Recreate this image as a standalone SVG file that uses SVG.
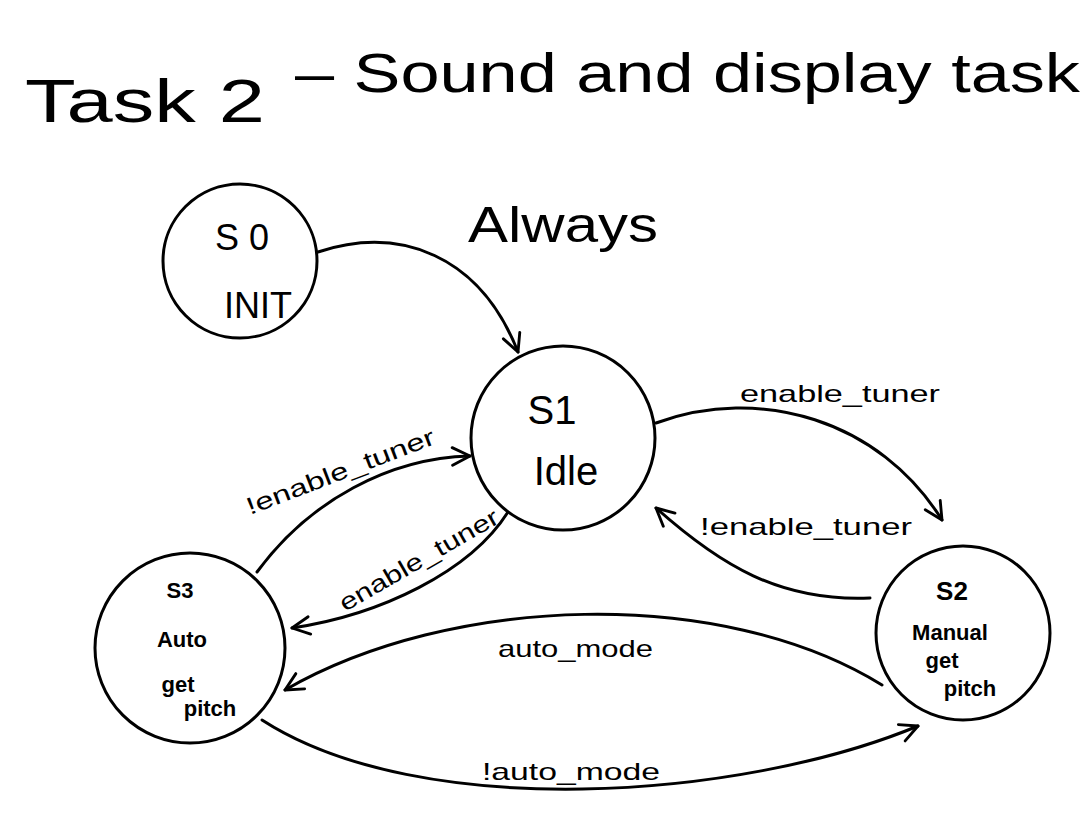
<svg xmlns="http://www.w3.org/2000/svg" width="1092" height="819" viewBox="0 0 1092 819">
<defs>
<marker id="arr" viewBox="0 0 20 20" refX="18" refY="10" markerWidth="22" markerHeight="22" markerUnits="userSpaceOnUse" orient="auto">
<path d="M2,2 L18,10 L2,18" fill="none" stroke="#000" stroke-width="2.6" stroke-linecap="round" stroke-linejoin="round"/>
</marker>
</defs>
<style>
.node{fill:#fff;stroke:#000;stroke-width:3}
.edge{fill:none;stroke:#000;stroke-width:3;stroke-linecap:round;marker-end:url(#arr)}
text{font-family:"Liberation Sans","DejaVu Sans",sans-serif;fill:#000}
.lbl{font-size:24px}
.big{font-size:50px}
.st{font-size:36px;text-anchor:middle}
.st1{font-size:40px;text-anchor:middle}
.sm{font-size:22px;text-anchor:middle;font-weight:bold}
.sm2{font-size:26px;text-anchor:middle;font-weight:bold}
.title{font-size:62px}
.title2{font-size:56px}
</style>
<rect width="1092" height="819" fill="#fff"/>
<g id="title">
<text class="title" x="25" y="122" textLength="240" lengthAdjust="spacingAndGlyphs">Task 2</text>
<text class="title2" x="295" y="92" textLength="785" lengthAdjust="spacingAndGlyphs">– Sound and display task</text>
</g>
<g id="edges">
<path class="edge" d="M318,252 C400,225 480,255 518,352"/>
<path class="edge" d="M656,423 C760,385 880,420 942,520"/>
<path class="edge" d="M870,598 C780,602 720,565 656,508"/>
<path class="edge" d="M257,572 C310,500 390,458 470,456"/>
<path class="edge" d="M508,512 C470,572 380,615 292,628"/>
<path class="edge" d="M882,685 C720,585 450,595 285,690"/>
<path class="edge" d="M262,720 C420,822 740,800 918,726"/>
<text class="big" x="468" y="242" textLength="190" lengthAdjust="spacingAndGlyphs">Always</text>
<text class="lbl" x="740" y="402" textLength="200" lengthAdjust="spacingAndGlyphs">enable_tuner</text>
<text class="lbl" x="700" y="535" textLength="212" lengthAdjust="spacingAndGlyphs">!enable_tuner</text>
<text class="lbl" transform="translate(250,515) rotate(-21)" textLength="200" lengthAdjust="spacingAndGlyphs">!enable_tuner</text>
<text class="lbl" transform="translate(345,612) rotate(-30)" textLength="180" lengthAdjust="spacingAndGlyphs">enable_tuner</text>
<text class="lbl" x="498" y="657" textLength="155" lengthAdjust="spacingAndGlyphs">auto_mode</text>
<text class="lbl" x="482" y="780" textLength="178" lengthAdjust="spacingAndGlyphs">!auto_mode</text>
</g>
<g id="S0">
<circle class="node" cx="240" cy="261" r="77"/>
<text class="st" x="242" y="250">S 0</text>
<text class="st" x="258" y="318">INIT</text>
</g>
<g id="S1">
<circle class="node" cx="563" cy="438" r="92"/>
<text class="st1" x="552" y="424">S1</text>
<text class="st1" x="566" y="485">Idle</text>
</g>
<g id="S3">
<circle class="node" cx="190" cy="648" r="95"/>
<text class="sm" x="180" y="598">S3</text>
<text class="sm" x="182" y="647">Auto</text>
<text class="sm" x="178" y="692">get</text>
<text class="sm" x="210" y="716">pitch</text>
</g>
<g id="S2">
<circle class="node" cx="963" cy="633" r="87"/>
<text class="sm2" x="952" y="600">S2</text>
<text class="sm" x="950" y="640">Manual</text>
<text class="sm" x="942" y="668">get</text>
<text class="sm" x="970" y="696">pitch</text>
</g>
</svg>
